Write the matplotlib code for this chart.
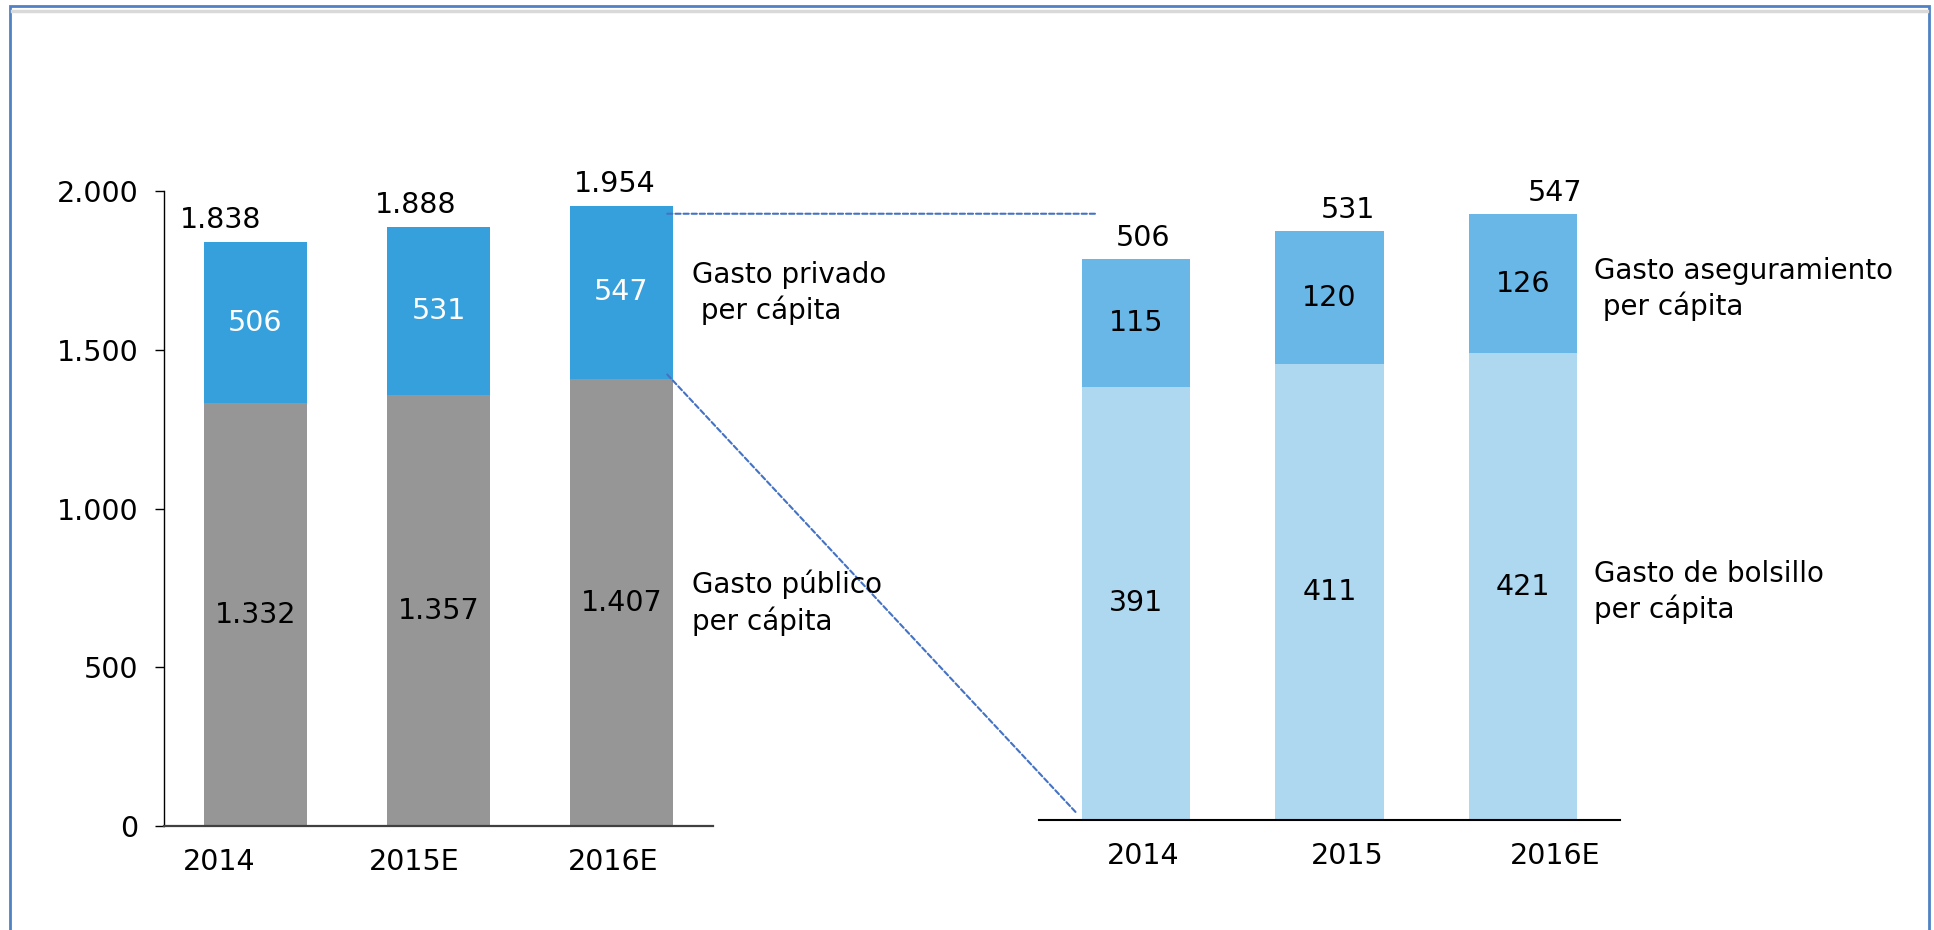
import matplotlib
matplotlib.use('Agg')
import matplotlib.pyplot as plt
from matplotlib.patches import Rectangle, ConnectionPatch
from matplotlib.lines import Line2D
from matplotlib.transforms import ScaledTranslation, blended_transform_factory
from matplotlib.ticker import FuncFormatter

# data
years_left = ['2014', '2015E', '2016E']
gasto_publico = [1332, 1357, 1407]
gasto_privado = [506, 531, 547]

years_right = ['2014', '2015', '2016E']
gasto_bolsillo = [391, 411, 421]
gasto_aseguramiento = [115, 120, 126]

# colours
c_gray = '#969696'
c_blue = '#36A0DD'
c_light = '#ADD8F0'
c_mid = '#68B7E6'
c_frame = '#4F81C4'
c_dash = '#4472C4'

FS = 20.5
FS_SIDE = 20
plt.rcParams['font.family'] = 'DejaVu Sans'

fig = plt.figure(figsize=(19.34, 9.30), dpi=100)
W, H = 1934.0, 930.0


def px(x0, y0, x1, y1):
    # pixel box -> figure fraction rect
    return [x0 / W, 1 - y1 / H, (x1 - x0) / W, (y1 - y0) / H]


axL = fig.add_axes(px(164, 191, 713, 826))
axR = fig.add_axes(px(1039, 155, 1620, 820))

bw = 0.56
xl = range(len(years_left))
xr = range(len(years_right))
tot_left = [a + b for a, b in zip(gasto_publico, gasto_privado)]
tot_right = [a + b for a, b in zip(gasto_bolsillo, gasto_aseguramiento)]


def miles(v):
    return f'{int(v):,}'.replace(',', '.')


# left panel
axL.bar(xl, gasto_publico, bw, color=c_gray)
axL.bar(xl, gasto_privado, bw, bottom=gasto_publico, color=c_blue)
axL.set_xlim(-0.5, 2.5)
axL.set_ylim(0, 2000)
axL.set_yticks([0, 500, 1000, 1500, 2000])
axL.yaxis.set_major_formatter(FuncFormatter(lambda v, p: miles(v)))
axL.tick_params(axis='y', direction='out', length=6.5, width=1, labelsize=FS, pad=12)
axL.set_xticks(list(xl), years_left)
axL.tick_params(axis='x', length=0, labelsize=FS, pad=16)
for s in ['top', 'right']:
    axL.spines[s].set_visible(False)
axL.spines['left'].set_linewidth(1)
axL.spines['bottom'].set_color('#404040')
axL.spines['bottom'].set_linewidth(1.6)

left_dx = [-36, -24, -8]
for lab, dx in zip(axL.get_xticklabels(), left_dx):
    lab.set_transform(lab.get_transform() + ScaledTranslation(dx / 100, 0, fig.dpi_scale_trans))

for i in xl:
    axL.text(i, gasto_publico[i] / 2, miles(gasto_publico[i]),
             ha='center', va='center', fontsize=FS, color='black')
    axL.text(i, gasto_publico[i] + gasto_privado[i] / 2, str(gasto_privado[i]),
             ha='center', va='center', fontsize=FS, color='white')
    axL.annotate(miles(tot_left[i]), (i, tot_left[i]),
                 xytext=(left_dx[i] + 1, 22), textcoords='offset pixels',
                 ha='center', va='center', fontsize=FS)

# right panel
axR.bar(xr, gasto_bolsillo, bw, color=c_light)
axR.bar(xr, gasto_aseguramiento, bw, bottom=gasto_bolsillo, color=c_mid)
axR.set_xlim(-0.5, 2.5)
axR.set_ylim(0, 600)
axR.set_yticks([])
axR.set_xticks(list(xr), years_right)
axR.tick_params(axis='x', length=0, labelsize=FS, pad=16)
for s in ['top', 'right', 'left']:
    axR.spines[s].set_visible(False)
axR.spines['bottom'].set_linewidth(1.5)

right_dx = [7, 18, 32]
for lab, dx in zip(axR.get_xticklabels(), right_dx):
    lab.set_transform(lab.get_transform() + ScaledTranslation(dx / 100, 0, fig.dpi_scale_trans))

for i in xr:
    axR.text(i, gasto_bolsillo[i] / 2, str(gasto_bolsillo[i]),
             ha='center', va='center', fontsize=FS)
    axR.text(i, gasto_bolsillo[i] + gasto_aseguramiento[i] / 2, str(gasto_aseguramiento[i]),
             ha='center', va='center', fontsize=FS)
    axR.annotate(str(tot_right[i]), (i, tot_right[i]),
                 xytext=(right_dx[i], 21), textcoords='offset pixels',
                 ha='center', va='center', fontsize=FS)

# side labels
fig.text(692 / W, 1 - 293 / H, 'Gasto privado\n per cápita', fontsize=FS_SIDE,
         va='center', ha='left', linespacing=1.3)
fig.text(692 / W, 1 - 603 / H, 'Gasto público\nper cápita', fontsize=FS_SIDE,
         va='center', ha='left', linespacing=1.3)
fig.text(1594 / W, 1 - 289 / H, 'Gasto aseguramiento\n per cápita', fontsize=FS_SIDE,
         va='center', ha='left', linespacing=1.3)
fig.text(1594 / W, 1 - 592 / H, 'Gasto de bolsillo\nper cápita', fontsize=FS_SIDE,
         va='center', ha='left', linespacing=1.3)

# dashed connectors
trA = blended_transform_factory(axL.transData, axR.transData)
con1 = ConnectionPatch(xyA=(2.25, tot_right[2]), coordsA=trA,
                       xyB=(-0.2, tot_right[2]), coordsB=axR.transData,
                       color=c_dash, lw=1.5, linestyle=(0, (2.5, 1.4)))
fig.add_artist(con1)
con2 = ConnectionPatch(xyA=(2.25, gasto_publico[2] + 15), coordsA=axL.transData,
                       xyB=(-0.31, 7), coordsB=axR.transData,
                       color=c_dash, lw=1.5, linestyle=(0, (2.5, 1.4)))
fig.add_artist(con2)

# frame
fig.add_artist(Line2D([12 / W, 1927 / W], [1 - 11 / H, 1 - 11 / H],
                      transform=fig.transFigure, color='#D9D9D9', lw=2.5))
fig.add_artist(Rectangle((10 / W, -0.05), 1919 / W, 1.05 - 6 / H,
                         transform=fig.transFigure, fill=False,
                         edgecolor=c_frame, lw=2))

fig.savefig('out.png', dpi=100)
